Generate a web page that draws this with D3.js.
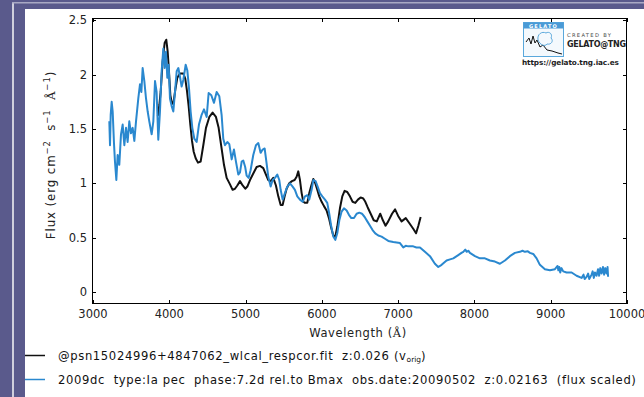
<!DOCTYPE html>
<html><head><meta charset="utf-8">
<script src="https://cdn.jsdelivr.net/npm/d3@7/dist/d3.min.js"></script>
<style>
html,body{margin:0;padding:0;background:#5a5a8c;}
svg{display:block;}
text{font-family:"DejaVu Sans",sans-serif;}
</style></head>
<body>
<svg id="c" width="644" height="397"></svg>
<script>
// ---- data (wavelength in Angstrom, flux in erg cm^-2 s^-1 A^-1) ----
const xTicks = [3000,4000,5000,6000,7000,8000,9000,10000];
const yTicks = [0,0.5,1,1.5,2,2.5];
const legendLabels = [
  "@psn15024996+4847062_wlcal_respcor.fit  z:0.026 (v",
  "2009dc  type:Ia pec  phase:7.2d rel.to Bmax  obs.date:20090502  z:0.02163  (flux scaled)"
];
const specPsn = [
[3850,1.62],[3870,1.72],[3887,1.84],[3913,2.12],[3939,2.29],[3961,2.32],[3979,2.21],[3996,2.03],
[4014,1.81],[4035,1.73],[4057,1.75],[4079,1.86],[4105,1.97],[4140,2.01],[4184,2.01],[4210,1.96],
[4232,1.85],[4254,1.71],[4276,1.54],[4298,1.39],[4320,1.29],[4346,1.23],[4376,1.19],[4411,1.20],
[4446,1.35],[4481,1.51],[4525,1.61],[4568,1.65],[4612,1.61],[4647,1.51],[4682,1.34],[4717,1.17],
[4752,1.05],[4796,0.99],[4830,0.94],[4861,0.95],[4892,0.98],[4927,1.02],[4962,0.98],[4996,0.95],
[5023,0.97],[5058,1.03],[5101,1.09],[5145,1.15],[5189,1.16],[5232,1.14],[5267,1.08],[5298,1.03],
[5329,1.02],[5363,1.05],[5398,0.98],[5429,0.88],[5460,0.80],[5486,0.80],[5512,0.88],[5538,0.95],
[5573,1.00],[5608,1.02],[5643,1.03],[5669,1.06],[5691,1.11],[5713,1.03],[5735,0.91],[5757,0.83],
[5779,0.82],[5809,0.82],[5835,0.91],[5862,0.98],[5888,1.04],[5914,1.00],[5940,0.94],[5966,0.88],
[5997,0.83],[6028,0.79],[6062,0.75],[6093,0.68],[6119,0.60],[6150,0.52],[6176,0.51],[6202,0.60],
[6237,0.77],[6268,0.88],[6298,0.93],[6333,0.92],[6368,0.88],[6403,0.83],[6438,0.82],[6473,0.85],
[6508,0.87],[6543,0.86],[6570,0.83],[6600,0.78],[6640,0.72],[6680,0.66],[6720,0.65],[6765,0.72],
[6800,0.66],[6835,0.61],[6870,0.65],[6920,0.72],[6960,0.76],[7000,0.70],[7045,0.65],[7100,0.68],
[7150,0.63],[7200,0.58],[7235,0.54],[7265,0.61],[7295,0.69]
];
const spec2009dc = [
[3214,1.57],[3223,1.35],[3232,1.63],[3245,1.75],[3258,1.66],[3275,1.37],[3288,1.20],[3306,1.03],
[3323,1.26],[3345,1.17],[3367,1.45],[3389,1.54],[3411,1.35],[3433,1.51],[3454,1.38],[3476,1.57],
[3498,1.46],[3520,1.51],[3542,1.39],[3564,1.57],[3594,1.78],[3616,1.91],[3634,1.84],[3651,2.06],
[3673,1.94],[3695,1.78],[3717,1.66],[3738,1.57],[3769,1.45],[3791,1.57],[3813,1.94],[3834,1.84],
[3856,1.40],[3878,1.66],[3900,2.03],[3922,2.24],[3939,2.06],[3957,2.21],[3974,1.97],[3992,2.09],
[4009,1.78],[4031,1.71],[4053,1.66],[4075,1.84],[4097,2.03],[4119,2.06],[4140,1.98],[4162,1.89],
[4184,1.95],[4215,2.09],[4236,2.04],[4258,1.88],[4280,1.66],[4302,1.51],[4328,1.41],[4359,1.38],
[4389,1.54],[4424,1.63],[4455,1.68],[4490,1.61],[4516,1.83],[4551,1.81],[4586,1.74],[4621,1.84],
[4656,1.80],[4686,1.63],[4708,1.41],[4730,1.35],[4761,1.38],[4787,1.36],[4818,1.22],[4848,1.31],
[4874,1.20],[4905,1.08],[4927,1.10],[4949,1.20],[4970,1.21],[4995,1.15],[5014,1.07],[5040,1.05],
[5066,1.12],[5101,1.26],[5136,1.35],[5167,1.37],[5197,1.28],[5224,1.31],[5250,1.32],[5276,1.18],
[5298,1.06],[5329,0.97],[5355,1.03],[5385,1.05],[5416,1.08],[5442,1.03],[5460,0.94],[5486,0.85],
[5516,0.91],[5547,0.97],[5582,1.00],[5617,0.97],[5647,0.94],[5678,0.88],[5713,0.85],[5748,0.83],
[5779,0.88],[5809,0.89],[5835,0.85],[5866,0.94],[5888,1.03],[5918,1.02],[5945,0.97],[5975,0.91],
[6006,0.88],[6041,0.85],[6071,0.82],[6097,0.72],[6124,0.60],[6150,0.51],[6176,0.48],[6202,0.54],
[6229,0.66],[6259,0.74],[6290,0.77],[6325,0.75],[6355,0.71],[6386,0.68],[6421,0.68],[6456,0.72],
[6491,0.73],[6526,0.72],[6561,0.69],[6596,0.65],[6631,0.61],[6665,0.57],[6700,0.54],[6740,0.52],
[6783,0.51],[6827,0.49],[6871,0.47],[6936,0.46],[6980,0.455],[7024,0.45],[7067,0.41],[7100,0.425],
[7133,0.42],[7198,0.42],[7240,0.41],[7286,0.41],[7351,0.37],[7417,0.33],[7482,0.26],[7526,0.23],
[7570,0.25],[7635,0.29],[7680,0.30],[7723,0.31],[7788,0.34],[7830,0.36],[7854,0.37],[7880,0.39],
[7898,0.37],[7920,0.38],[7941,0.36],[8007,0.33],[8072,0.31],[8138,0.31],[8203,0.29],[8269,0.28],
[8334,0.26],[8400,0.29],[8465,0.33],[8531,0.36],[8596,0.37],[8630,0.38],[8662,0.37],[8700,0.375],
[8727,0.36],[8771,0.35],[8815,0.31],[8858,0.25],[8924,0.21],[8990,0.20],[9055,0.21],[9090,0.24],
[9100,0.20],[9112,0.23],[9125,0.18],[9140,0.22],[9164,0.19],[9208,0.18],[9274,0.18],[9339,0.15],
[9405,0.13],[9430,0.16],[9445,0.12],[9470,0.14],[9490,0.17],[9505,0.12],[9536,0.16],[9550,0.19],
[9565,0.13],[9580,0.18],[9601,0.15],[9620,0.21],[9635,0.15],[9650,0.22],[9667,0.17],[9685,0.23],
[9700,0.16],[9715,0.22],[9732,0.17],[9745,0.23],[9752,0.14]
];

// ---- layout ----
const svg = d3.select("#c");
const L = 92, R = 627, T = 18, B = 304;
const BLUE = "#2a88cf";

// frame background
svg.append("rect").attr("x",0).attr("y",0).attr("width",644).attr("height",397).attr("fill","#5a5a8c");
svg.append("rect").attr("x",12).attr("y",2).attr("width",2).attr("height",395).attr("fill","#cfcfdc");
svg.append("rect").attr("x",12).attr("y",2).attr("width",632).attr("height",1.5).attr("fill","#a9a9c4");
svg.append("rect").attr("x",25).attr("y",9).attr("width",619).attr("height",388).attr("fill","#ffffff");

const x = d3.scaleLinear().domain([2987,10000]).range([L,R]);
const y = d3.scaleLinear().domain([-0.11,2.52]).range([B,T]);

const line = d3.line().x(d=>x(d[0])).y(d=>y(d[1]));
const g = svg.append("g");
g.append("path").datum(specPsn).attr("d",line).attr("fill","none")
  .attr("stroke","#111").attr("stroke-width",2).attr("stroke-linejoin","round");
g.append("path").datum(spec2009dc).attr("d",line).attr("fill","none")
  .attr("stroke",BLUE).attr("stroke-width",2).attr("stroke-linejoin","round");

// axes (matplotlib-like inward ticks on all sides)
const tl = 4;
const ax = svg.append("g").attr("stroke","#000").attr("stroke-width",1).attr("fill","none");
ax.append("rect").attr("x",L+0.5).attr("y",T+0.5).attr("width",R-L-1).attr("height",B-T-1);
xTicks.forEach(t=>{
  const px = Math.round(x(t))+0.5;
  ax.append("line").attr("x1",px).attr("x2",px).attr("y1",B).attr("y2",B-tl);
  ax.append("line").attr("x1",px).attr("x2",px).attr("y1",T).attr("y2",T+tl);
});
yTicks.forEach(t=>{
  const py = Math.round(y(t))+0.5;
  ax.append("line").attr("x1",L).attr("x2",L+tl).attr("y1",py).attr("y2",py);
  ax.append("line").attr("x1",R).attr("x2",R-tl).attr("y1",py).attr("y2",py);
});
const lab = svg.append("g").attr("fill","#222").attr("font-size","11.5px");
xTicks.forEach(t=>{
  lab.append("text").attr("x",x(t)).attr("y",B+14).attr("text-anchor","middle").text(t);
});
yTicks.forEach(t=>{
  lab.append("text").attr("x",L-5).attr("y",y(t)+4).attr("text-anchor","end").text(t);
});

// axis titles
const xt = svg.append("text").attr("x",358).attr("y",337).attr("text-anchor","middle")
  .attr("font-size","11.5px").attr("fill","#222").attr("letter-spacing","0.6px");
xt.append("tspan").text("Wavelength (");
xt.append("tspan").attr("font-family","'DejaVu Serif',serif").text("Å");
xt.append("tspan").text(")");

const yt = svg.append("text").attr("transform","translate(55,155) rotate(-90)")
  .attr("text-anchor","middle").attr("font-size","11.8px").attr("fill","#222")
  .attr("letter-spacing","0.9px").style("white-space","pre");
yt.append("tspan").text("Flux (erg cm");
yt.append("tspan").attr("font-size","8.5px").attr("dy",-5).text("−2");
yt.append("tspan").attr("dy",5).text("  s");
yt.append("tspan").attr("font-size","8.5px").attr("dy",-5).text("−1");
yt.append("tspan").attr("dy",5).text("  ");
yt.append("tspan").attr("font-family","'DejaVu Serif',serif").text("Å");
yt.append("tspan").attr("font-size","8.5px").attr("dy",-5).text("−1");
yt.append("tspan").attr("dy",5).text(")");

// legend
const lg = svg.append("g").attr("font-size","11.6px").attr("fill","#111");
lg.append("line").attr("x1",25).attr("x2",45).attr("y1",355.5).attr("y2",355.5).attr("stroke","#111").attr("stroke-width",1.5);
lg.append("line").attr("x1",25).attr("x2",45).attr("y1",379.5).attr("y2",379.5).attr("stroke",BLUE).attr("stroke-width",1.5);
const t1 = lg.append("text").attr("x",58).attr("y",360).style("white-space","pre").attr("letter-spacing","0.63px");
t1.append("tspan").text(legendLabels[0]);
t1.append("tspan").attr("font-size","7.5px").attr("letter-spacing","0px").attr("dy",2).text("orig");
t1.append("tspan").attr("dy",-2).text(")");
lg.append("text").attr("x",58).attr("y",384).style("white-space","pre").attr("letter-spacing","0.63px").text(legendLabels[1]);

// GELATO logo (decoration)
const lo = svg.append("g");
lo.append("rect").attr("x",523.5).attr("y",22.5).attr("width",40).attr("height",34).attr("fill","#f4f9fd").attr("stroke","#5aa8dc").attr("stroke-width",1);
lo.append("rect").attr("x",523.5).attr("y",22.5).attr("width",40).attr("height",6).attr("fill","#4a9ad6");
lo.append("text").attr("x",543.5).attr("y",27.6).attr("text-anchor","middle").attr("font-size","5px")
  .attr("fill","#fff").attr("letter-spacing","1.2px").attr("font-weight","bold").text("GELATO");
lo.append("path").attr("d","M526,42 L529,38 L531,44 L533,36 L535,43 L537,40 L540,47 L543,45 L547,50 L552,51 L558,53 L562,54")
  .attr("fill","none").attr("stroke","#111").attr("stroke-width",1);
lo.append("path").attr("d","M538,40 C537,34 542,31 546,33 C549,31 553,34 551,38 C554,41 551,45 547,44 C545,47 540,45 538,40 Z")
  .attr("fill","none").attr("stroke","#5aa8dc").attr("stroke-width",1);
lo.append("text").attr("x",567).attr("y",37).attr("font-size","5.2px").attr("fill","#444").attr("letter-spacing","1.3px").text("CREATED BY");
lo.append("text").attr("x",567).attr("y",47).attr("font-size","8px").attr("font-weight","bold").attr("fill","#222").attr("letter-spacing","-0.3px").text("GELATO@TNG");
lo.append("text").attr("x",522).attr("y",65).attr("font-size","7.3px").attr("font-weight","bold").attr("fill","#222").attr("letter-spacing","-0.1px").text("https://gelato.tng.iac.es");
</script>
</body></html>
